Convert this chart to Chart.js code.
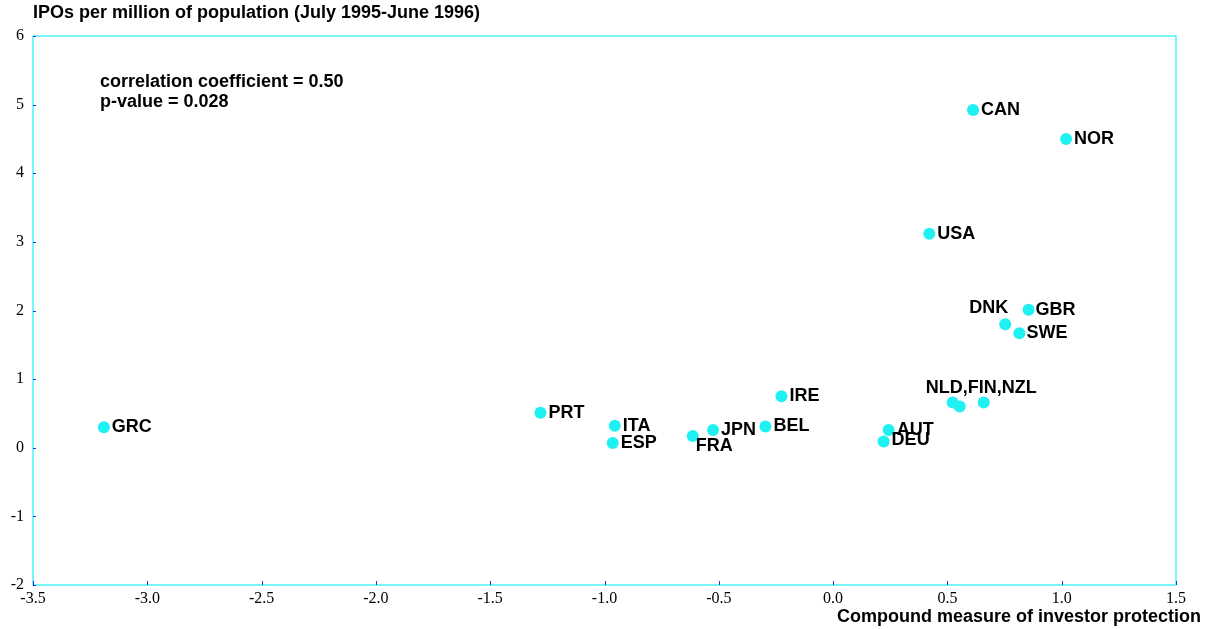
<!DOCTYPE html>
<html>
<head>
<meta charset="utf-8">
<script src="https://cdn.jsdelivr.net/npm/chart.js@4.4.0/dist/chart.umd.min.js"></script>
<style>
  html, body { margin: 0; padding: 0; background: #fff; }
  #wrap { width: 1209px; height: 629px; position: relative; }
</style>
</head>
<body>
<div id="wrap"><canvas id="ipoChart" width="1209" height="629"></canvas></div>
<script>
// Country codes and values
const countries = ["GRC", "PRT", "ITA", "ESP", "FRA", "JPN", "BEL", "IRE", "AUT", "DEU",
                   "NLD", "FIN", "NZL", "USA", "CAN", "NOR", "DNK", "GBR", "SWE"];
const protection = [-3.19, -1.28, -0.955, -0.964, -0.614, -0.525, -0.296, -0.226, 0.243, 0.221,
                    0.523, 0.554, 0.659, 0.421, 0.612, 1.019, 0.753, 0.855, 0.815];
const iposPerMillion = [0.30, 0.51, 0.32, 0.07, 0.17, 0.26, 0.31, 0.75, 0.26, 0.09,
                        0.66, 0.60, 0.66, 3.12, 4.92, 4.50, 1.80, 2.01, 1.67];
const xTicks = [-3.5, -3.0, -2.5, -2.0, -1.5, -1.0, -0.5, 0.0, 0.5, 1.0, 1.5];
const yTicks = [-2, -1, 0, 1, 2, 3, 4, 5, 6];

const yTitle = "IPOs per million of population (July 1995-June 1996)";
const xTitle = "Compound measure of investor protection";
const notes = ["correlation coefficient = 0.50", "p-value = 0.028"];

// where each point label goes (default: right of the point)
const labelPlace = {
    FRA: { dx: 3, dy: 10 },
    DNK: { dx: 3, dy: -16, align: "right" },
    NLD: { dx: -27, dy: -14, text: "NLD,FIN,NZL" },
    FIN: { text: "" },
    NZL: { text: "" },
    DEU: { dy: -2 },
    SWE: { dx: 7 },
    GBR: { dx: 7 }
};

const CYAN = "#1ff0f2";
const boldFont = "bold 18px 'Liberation Sans', Arial, sans-serif";

const points = protection.map((x, i) => ({ x: x, y: iposPerMillion[i] }));

// --- frame, inside tick marks, titles and point labels ---
const decor = {
    id: "decor",
    afterDatasetsDraw(chart) {
        const ctx = chart.ctx;
        const a = chart.chartArea;
        const xs = chart.scales.x, ys = chart.scales.y;
        ctx.save();

        // frame
        ctx.strokeStyle = CYAN;
        ctx.lineWidth = 1.2;
        ctx.strokeRect(a.left, a.top, a.right - a.left, a.bottom - a.top);

        // tick marks
        ctx.strokeStyle = "#2233dd";
        ctx.lineWidth = 1;
        xTicks.forEach(v => {
            const px = Math.round(xs.getPixelForValue(v)) + 0.5;
            ctx.beginPath();
            ctx.moveTo(px, a.bottom);
            ctx.lineTo(px, a.bottom - 4);
            ctx.stroke();
        });
        yTicks.forEach(v => {
            const py = Math.round(ys.getPixelForValue(v)) + 0.5;
            ctx.beginPath();
            ctx.moveTo(a.left, py);
            ctx.lineTo(a.left + 3, py);
            ctx.stroke();
        });

        // titles
        ctx.fillStyle = "#000";
        ctx.font = boldFont;
        ctx.textBaseline = "middle";
        ctx.textAlign = "left";
        ctx.fillText(yTitle, 33, 13);
        ctx.textAlign = "right";
        ctx.fillText(xTitle, 1201, 617);

        // stats note
        ctx.textAlign = "left";
        ctx.fillText(notes[0], 100, 82);
        ctx.fillText(notes[1], 100, 102);

        // point labels
        const meta = chart.getDatasetMeta(0);
        meta.data.forEach((pt, i) => {
            const code = countries[i];
            const p = labelPlace[code] || {};
            const text = p.text !== undefined ? p.text : code;
            if (!text) return;
            ctx.textAlign = p.align || "left";
            ctx.fillText(text, pt.x + (p.dx !== undefined ? p.dx : 8), pt.y + (p.dy || 0));
        });
        ctx.restore();
    }
};

new Chart(document.getElementById("ipoChart"), {
    type: "scatter",
    data: {
        datasets: [{
            data: points,
            backgroundColor: CYAN,
            borderColor: CYAN,
            pointRadius: 6,
            pointHoverRadius: 6,
            borderWidth: 0
        }]
    },
    options: {
        responsive: false,
        animation: false,
        layout: { padding: { left: 0, top: 36, right: 33, bottom: 24 } },
        plugins: { legend: { display: false }, tooltip: { enabled: false } },
        scales: {
            x: {
                type: "linear",
                min: -3.5,
                max: 1.5,
                afterBuildTicks: s => { s.ticks = xTicks.map(v => ({ value: v })); },
                afterFit: s => { s.height = 20; },
                grid: { display: false, drawTicks: false },
                border: { display: false },
                ticks: {
                    padding: 4,
                    color: "#000",
                    maxRotation: 0,
                    autoSkip: false,
                    font: { family: "'Liberation Serif', 'Times New Roman', serif", size: 16 },
                    callback: v => v.toFixed(1)
                }
            },
            y: {
                type: "linear",
                min: -2,
                max: 6,
                afterBuildTicks: s => { s.ticks = yTicks.map(v => ({ value: v })); },
                afterFit: s => { s.width = 33; },
                grid: { display: false, drawTicks: false },
                border: { display: false },
                ticks: {
                    padding: 9,
                    color: "#000",
                    autoSkip: false,
                    font: { family: "'Liberation Serif', 'Times New Roman', serif", size: 16 },
                    callback: v => String(v)
                }
            }
        }
    },
    plugins: [decor]
});
</script>
</body>
</html>
